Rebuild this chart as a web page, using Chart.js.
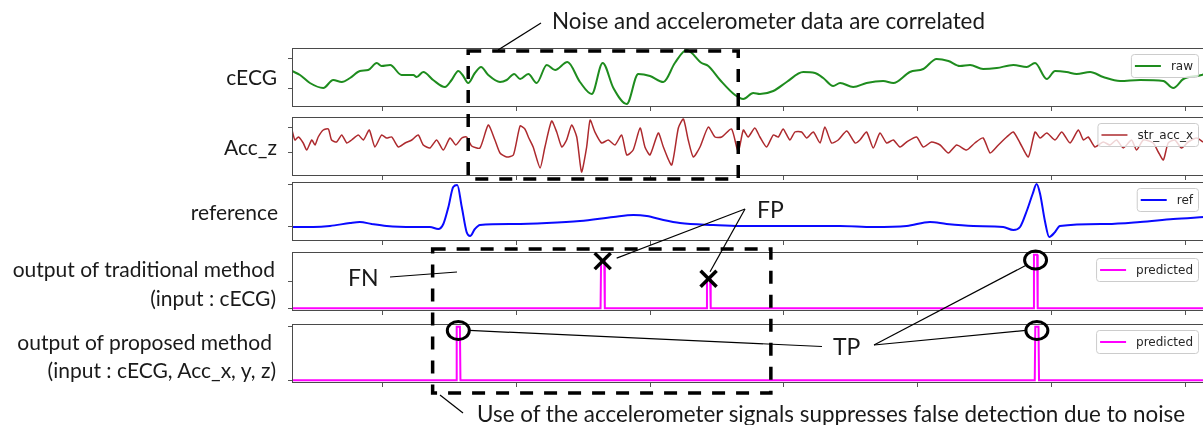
<!DOCTYPE html>
<html>
<head>
<meta charset="utf-8">
<script src="https://cdn.jsdelivr.net/npm/chart.js@4.4.0/dist/chart.umd.min.js"></script>
<style>
  html, body { margin: 0; padding: 0; background: #fff; }
  body { width: 1203px; height: 425px; overflow: hidden; position: relative; }
  canvas.panel { position: absolute; }
  #notes { position: absolute; left: 0; top: 0; pointer-events: none; }
  #notes text { font-family: Lato, "Open Sans", sans-serif; font-size: 21px; fill: #1a1a1a; }
  #notes text.cap { font-size: 22.4px; }
  #notes text.big { font-size: 23px; }
</style>
</head>
<body>
<canvas class="panel" id="p0"></canvas>
<canvas class="panel" id="p1"></canvas>
<canvas class="panel" id="p2"></canvas>
<canvas class="panel" id="p3"></canvas>
<canvas class="panel" id="p4"></canvas>
<svg id="notes" width="1203" height="425" xmlns="http://www.w3.org/2000/svg"></svg>
<script>
// x axis: sample index, shared by every panel
const xMin = 160, xMax = 3571;
const xTicks = [500, 1000, 1500, 2000, 2500, 3000, 3500];

// cECG (raw), arbitrary units
const cecgX = [160,190,227,277,314,346,377,414,445,477,495,527,570,614,626,651,688,732,757,782,798,819,844,867,894,938,963,991,1013,1044,1075,1113,1144,1190,1237,1281,1322,1362,1412,1455,1499,1549,1592,1636,1692,1717,1761,1817,1848,1885,1910,1960,2010,2072,2116,2147,2184,2210,2259,2309,2371,2409,2471,2521,2571,2615,2658,2696,2745,2796,2858,2908,2939,2983,3014,3057,3095,3145,3194,3257,3332,3419,3456,3494,3562,3571];
const cecgY = [36,32,24,19,27,25,29,36,37,44,41,42,32,32,30,35,27,20,27,36,32,24,34,40,32,25,27,33,28,33,24,42,37,45,25,13,44,19,3,33,31,25,44,57,44,41,27,12,8,14,13,16,25,35,34,29,21,24,20,24,26,24,35,38,48,46,41,42,38,39,42,40,44,28,36,35,33,35,30,26,27,26,19,28,32,33];

// Acc_z (str_acc_x), arbitrary units
const accX = [160,171,184,202,215,234,246,258,277,296,308,327,346,365,383,408,427,449,470,495,514,533,558,583,608,632,651,676,701,726,751,773,795,813,832,863,894,919,938,963,988,1013,1031,1044,1062,1088,1106,1131,1150,1169,1187,1206,1225,1243,1262,1275,1293,1318,1343,1368,1393,1412,1436,1462,1480,1499,1530,1549,1580,1605,1624,1642,1661,1686,1717,1742,1767,1804,1829,1848,1866,1891,1910,1935,1960,1979,1997,2022,2041,2066,2085,2110,2135,2153,2178,2203,2235,2266,2284,2309,2334,2359,2384,2409,2434,2459,2496,2521,2552,2584,2615,2646,2683,2714,2745,2771,2802,2833,2858,2883,2914,2939,2958,2983,3014,3039,3070,3101,3120,3138,3163,3194,3219,3244,3269,3300,3319,3344,3381,3400,3419,3437,3462,3487,3512,3544,3567];
const accY = [46,36,39,33,26,36,31,39,46,47, 36,34,41,33,36,41,36,46,29,41, 38,39,29,33,36,41,31,28,36,26, 38,31,38,39,30,28,51,36,23,19, 21,50,47,39,29,8,29,55,44,29, 36,51,39,4,29,56,44,33,36,31, 41,21,26,48,29,21,43,29,11,48, 57,36,19,29,49,39,39,47,24,46, 39,48,39,29,41,39,47,36,44,44, 38,44,33,49,33,36,45,33,36,44, 28,43,33,36,29,34,39,29,34,31, 23,31,26,33,38,23,31,39,44,33, 19,44,38,43,36,44,33,46,36,39, 29,34,31,36,28,36,26,36,33,24, 16,33,36,28,34,38,34];

// reference ECG, arbitrary units
const refX = [160,240,302,377,414,458,514,614,676,707,726,745,763,778,795,813,826,844,863,988,1113,1237,1362,1437,1487,1549,1611,1736,1836,1960,2085,2210,2334,2459,2546,2608,2708,2820,2858,2883,2908,2930,2945,2958,2976,2992,3014,3032,3207,3332,3456,3571];
const refY = [14,14,15,18,19,17,15,14,14,12,17,34,54,56,34,9,5,12,16,17,18,20,24,26,25,21,18,16,15,15,15,15,14,15,19,17,15,14,11,14,30,47,57,47,20,4,9,15,17,19,22,24];

// detector outputs (0..1)
const tradX = [160,1314,1316,1328,1330,1710,1712,1724,1726,2933,2935,2947,2949,3571];
const tradY = [0,0,0.88,0.88,0,0,0.55,0.55,0,0,1,1,0,0];
const propX = [160,774,776,788,790,2938,2940,2952,2954,3571];
const propY = [0,0,1,1,0,0,1,1,0,0];

// annotation anchors: [sample, value] in the panel's own units
const fpMarks = [[1322, 0.88], [1718, 0.55]];
const tpTrad = [[2941, 0.9]];
const tpProp = [[782, 0.93], [2946, 0.93]];

const $ = id => document.getElementById(id);
const pts = (xs, ys) => xs.map((x, i) => ({ x, y: ys[i] }));

const LEFT = 292, RIGHT = 1204, H = 59, AXW = 10, AXH = 8, PADT = 2;

const panels = [
  { top: 48,  label: 'raw',       color: '#1e8c1e', width: 2,   data: pts(cecgX, cecgY), yMin: 0, yMax: 59, yTicks: [19, 49], mono: true },
  { top: 117, label: 'str_acc_x', color: '#ad2a2e', width: 1.5, data: pts(accX, accY),   yMin: 0, yMax: 59, yTicks: [23, 48], tension: 0.2 },
  { top: 182, label: 'ref',       color: '#0a0aff', width: 2,   data: pts(refX, refY),   yMin: 0, yMax: 59, yTicks: [15, 56], mono: true },
  { top: 252, label: 'predicted', color: '#ff00ff', width: 2,   data: pts(tradX, tradY), yMin: -0.05, yMax: 1.05, yTicks: [0, 0.5] },
  { top: 324, label: 'predicted', color: '#ff00ff', width: 2,   data: pts(propX, propY), yMin: -0.05, yMax: 1.05, yTicks: [0, 1] }
];

// box frame + matplotlib-like legend
const frame = {
  id: 'frame',
  afterDatasetsDraw(chart) {
    const { ctx, chartArea: a } = chart;
    const ds = chart.data.datasets[0];
    ctx.save();
    ctx.strokeStyle = '#4a4a4a';
    ctx.lineWidth = 1;
    ctx.strokeRect(a.left + 0.5, a.top + 0.5, a.right - a.left, a.bottom - a.top - 1);

    ctx.font = '12px "DejaVu Sans"';
    const tw = ctx.measureText(ds.label).width;
    const w = 40 + tw + 5, h = 23;
    const x0 = a.right - 6 - w, y0 = a.top + 6;
    ctx.beginPath();
    ctx.roundRect(x0 + 0.5, y0 + 0.5, w, h, 3);
    ctx.fillStyle = 'rgba(255,255,255,0.8)';
    ctx.fill();
    ctx.strokeStyle = '#cccccc';
    ctx.stroke();
    ctx.beginPath();
    ctx.moveTo(x0 + 4, y0 + h / 2 + 0.5);
    ctx.lineTo(x0 + 30, y0 + h / 2 + 0.5);
    ctx.strokeStyle = ds.borderColor;
    ctx.lineWidth = ds.borderWidth;
    ctx.stroke();
    ctx.fillStyle = '#262626';
    ctx.textBaseline = 'middle';
    ctx.fillText(ds.label, x0 + 40, y0 + h / 2 + 1);
    ctx.restore();
  }
};

const tickGrid = { drawOnChartArea: false, drawTicks: true, tickLength: 4, tickColor: '#555', tickWidth: 1 };

const charts = panels.map((p, i) => {
  const cv = $('p' + i);
  cv.width = RIGHT - LEFT + AXW;
  cv.height = PADT + H + AXH;
  cv.style.left = (LEFT - AXW) + 'px';
  cv.style.top = (p.top - PADT) + 'px';
  return new Chart(cv, {
    type: 'line',
    data: {
      datasets: [{
        label: p.label, data: p.data, borderColor: p.color, borderWidth: p.width,
        pointRadius: 0, fill: false,
        cubicInterpolationMode: p.mono ? 'monotone' : 'default', tension: p.tension || 0
      }]
    },
    options: {
      responsive: false, animation: false, events: [],
      layout: { padding: { top: PADT, left: 0, right: 0, bottom: 0 } },
      plugins: { legend: { display: false }, tooltip: { enabled: false } },
      scales: {
        x: {
          type: 'linear', min: xMin, max: xMax,
          ticks: { display: false }, grid: tickGrid, border: { display: false },
          afterBuildTicks: s => { s.ticks = xTicks.map(v => ({ value: v })); },
          afterFit: s => { s.height = AXH; }
        },
        y: {
          min: p.yMin, max: p.yMax,
          ticks: { display: false }, grid: tickGrid, border: { display: false },
          afterBuildTicks: s => { s.ticks = p.yTicks.map(v => ({ value: v })); },
          afterFit: s => { s.width = AXW; }
        }
      }
    },
    plugins: [frame]
  });
});

// page coordinates from the charts' scales
const px = v => charts[0].scales.x.getPixelForValue(v) + LEFT - AXW;
const py = (i, v) => charts[i].scales.y.getPixelForValue(v) + panels[i].top - PADT;

const NS = 'http://www.w3.org/2000/svg';
const svg = $('notes');
function el(tag, attrs, text) {
  const e = document.createElementNS(NS, tag);
  for (const k in attrs) e.setAttribute(k, attrs[k]);
  if (text) e.textContent = text;
  svg.appendChild(e);
  return e;
}
const line = (x1, y1, x2, y2, w = 1.2) =>
  el('line', { x1, y1, x2, y2, stroke: '#000', 'stroke-width': w });

// row labels
[['cECG', 85, 277], ['Acc_z', 155, 277], ['reference', 220, 278],
 ['output of traditional method', 277, 275], ['(input : cECG)', 306, 276],
 ['output of proposed method', 350, 272], ['(input : cECG, Acc_x, y, z)', 378, 276]]
  .forEach(([t, y, x]) => el('text', { x, y, 'text-anchor': 'end' }, t));

// dashed boxes
const dash = { fill: 'none', stroke: '#000', 'stroke-width': 3.5, 'stroke-dasharray': '13 11' };
function box(s0, s1, y0, y1) {
  const x0 = px(s0), x1 = px(s1);
  el('rect', Object.assign({ x: x0, y: y0, width: x1 - x0, height: y1 - y0 }, dash));
}
box(819, 1829, 51, 179);
box(686, 1951, 249, 393);

// captions
el('text', { x: 552, y: 29, class: 'cap' }, 'Noise and accelerometer data are correlated');
line(498, 50, 541, 23);
el('text', { x: 477, y: 422, class: 'cap' }, 'Use of the accelerometer signals suppresses false detection due to noise');
line(440, 395, 463, 413);

// FN
el('text', { x: 348, y: 286, class: 'big' }, 'FN');
line(390, 277, 457, 272);

// FP crosses
const fp = fpMarks.map(([s, v]) => [px(s), py(3, v)]);
fp.forEach(([cx, cy]) => {
  line(cx - 8, cy - 8, cx + 8, cy + 8, 3.5);
  line(cx - 8, cy + 8, cx + 8, cy - 8, 3.5);
});
el('text', { x: 757, y: 218, class: 'big' }, 'FP');
line(745, 209, fp[0][0] + 14, fp[0][1] - 3);
line(745, 209, fp[1][0] + 1.5, fp[1][1] - 7);

// TP circles
const ring = (cx, cy) => el('ellipse', { cx, cy, rx: 11, ry: 9, fill: 'none', stroke: '#000', 'stroke-width': 3 });
const tpA = tpTrad.map(([s, v]) => [px(s), py(3, v)]);
const tpB = tpProp.map(([s, v]) => [px(s), py(4, v)]);
tpA.concat(tpB).forEach(([cx, cy]) => ring(cx, cy));
el('text', { x: 833, y: 355, class: 'big' }, 'TP');
line(874, 345, tpA[0][0] - 9, tpA[0][1] + 5);
line(874, 345, tpB[1][0] - 11, tpB[1][1]);
line(tpB[0][0] + 11, tpB[0][1], 822, 346.5);
</script>
</body>
</html>
